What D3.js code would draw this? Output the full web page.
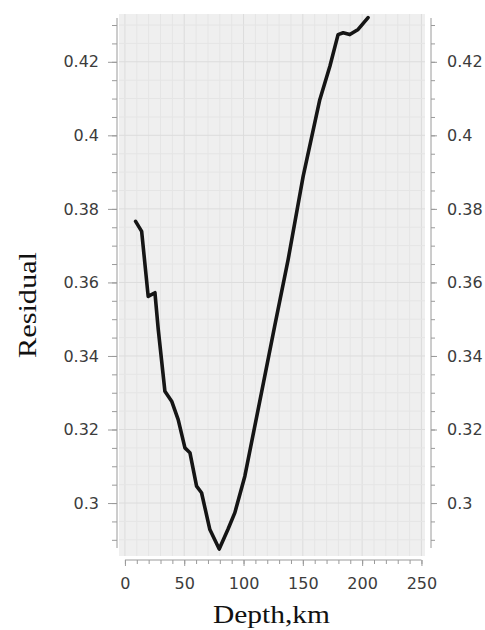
<!DOCTYPE html>
<html>
<head>
<meta charset="utf-8">
<script src="https://cdn.jsdelivr.net/npm/d3@7"></script>
<style>
  body { margin: 0; background: #fff; }
</style>
</head>
<body>
<svg width="485" height="630"></svg>
<script>
// depth (km) and residual
const depth = [9.0, 14.1, 19.6, 25.3, 28.1, 33.7, 39.4, 44.9, 50.6, 54.8, 60.4, 64.6, 71.6, 79.5,
    86.8, 92.7, 101.1, 109.0, 116.9, 126.3, 137.6, 150.3, 164.3, 172.8, 179.7, 184.0, 189.6, 196.6, 205.0];
const residual = [0.3766, 0.3739, 0.3562, 0.3572, 0.3472, 0.3304, 0.3277, 0.3227, 0.3150, 0.3137,
    0.3046, 0.3028, 0.2928, 0.2875, 0.2928, 0.2974, 0.3073, 0.3201, 0.3329, 0.3482, 0.3662, 0.3889,
    0.4097, 0.4188, 0.4274, 0.4279, 0.4274, 0.4288, 0.4320];

const xTicks = [0, 50, 100, 150, 200, 250];
const yTicks = [0.3, 0.32, 0.34, 0.36, 0.38, 0.4, 0.42];
const xMinor = d3.range(0, 251, 10);
const yMinor = d3.range(58, 87).map(v => v / 200);

const svg = d3.select("svg");

const x = d3.scaleLinear().domain([-5, 253]).range([119, 425]);
const y = d3.scaleLinear().domain([0.2856, 0.433]).range([556, 14]);

// plot background + grid
svg.append("rect")
    .attr("x", 119).attr("y", 14)
    .attr("width", 306).attr("height", 542)
    .attr("fill", "#efefef");

const grid = svg.append("g");
grid.selectAll(".vminor").data(xMinor).enter().append("line")
    .attr("x1", d => x(d)).attr("x2", d => x(d))
    .attr("y1", 14).attr("y2", 556)
    .attr("stroke", d => d % 50 === 0 ? "#dcdcdc" : "#e5e5e5")
    .attr("stroke-width", 1);
grid.selectAll(".hminor").data(yMinor).enter().append("line")
    .attr("x1", 119).attr("x2", 425)
    .attr("y1", d => y(d)).attr("y2", d => y(d))
    .attr("stroke", (d, i) => (i % 4 === 2) ? "#dcdcdc" : "#e5e5e5")
    .attr("stroke-width", 1);

// the residual curve
const line = d3.line()
    .x((d, i) => x(depth[i]))
    .y(d => y(d));

svg.append("path")
    .datum(residual)
    .attr("d", line)
    .attr("fill", "none")
    .attr("stroke", "#151515")
    .attr("stroke-width", 3.6)
    .attr("stroke-linejoin", "round")
    .attr("stroke-linecap", "round");

// axes
function styleAxis(g) {
    g.select(".domain").remove();
    g.selectAll(".tick line").attr("stroke", "#9a9a9a");
    g.selectAll(".tick text").attr("fill", "#3c3c3c");
    g.attr("font-family", "DejaVu Sans").attr("font-size", 16);
}

const yLeft = svg.append("g").attr("transform", "translate(117,0)");
yLeft.append("g").call(d3.axisLeft(y).tickValues(yMinor).tickSize(5).tickFormat("")).call(styleAxis);
yLeft.append("g").call(d3.axisLeft(y).tickValues(yTicks).tickSize(9).tickPadding(9).tickFormat(d3.format("~g"))).call(styleAxis);
yLeft.append("line").attr("x1", 0).attr("x2", 0).attr("y1", 18).attr("y2", 548).attr("stroke", "#9a9a9a");

const yRight = svg.append("g").attr("transform", "translate(431,0)");
yRight.append("g").call(d3.axisRight(y).tickValues(yMinor).tickSize(4).tickFormat("")).call(styleAxis);
yRight.append("g").call(d3.axisRight(y).tickValues(yTicks).tickSize(6).tickPadding(10).tickFormat(d3.format("~g"))).call(styleAxis);
yRight.append("line").attr("x1", 0).attr("x2", 0).attr("y1", 18).attr("y2", 548).attr("stroke", "#9a9a9a");

const xAxis = svg.append("g").attr("transform", "translate(0,560)");
xAxis.append("g").call(d3.axisBottom(x).tickValues(xMinor).tickSize(4).tickFormat("")).call(styleAxis);
xAxis.append("g").call(d3.axisBottom(x).tickValues(xTicks).tickSize(6).tickPadding(12)).call(styleAxis);
xAxis.append("line").attr("x1", x(0)).attr("x2", x(250)).attr("y1", 0).attr("y2", 0).attr("stroke", "#9a9a9a");

// axis titles
svg.append("text")
    .attr("x", 271.5).attr("y", 623)
    .attr("text-anchor", "middle")
    .attr("font-family", "Liberation Serif")
    .attr("font-size", 25)
    .attr("fill", "#111")
    .attr("textLength", 117)
    .attr("lengthAdjust", "spacingAndGlyphs")
    .text("Depth,km");

svg.append("text")
    .attr("transform", "translate(36,305) rotate(-90)")
    .attr("text-anchor", "middle")
    .attr("font-family", "Liberation Serif")
    .attr("font-size", 25)
    .attr("fill", "#111")
    .attr("textLength", 106)
    .attr("lengthAdjust", "spacingAndGlyphs")
    .text("Residual");
</script>
</body>
</html>
